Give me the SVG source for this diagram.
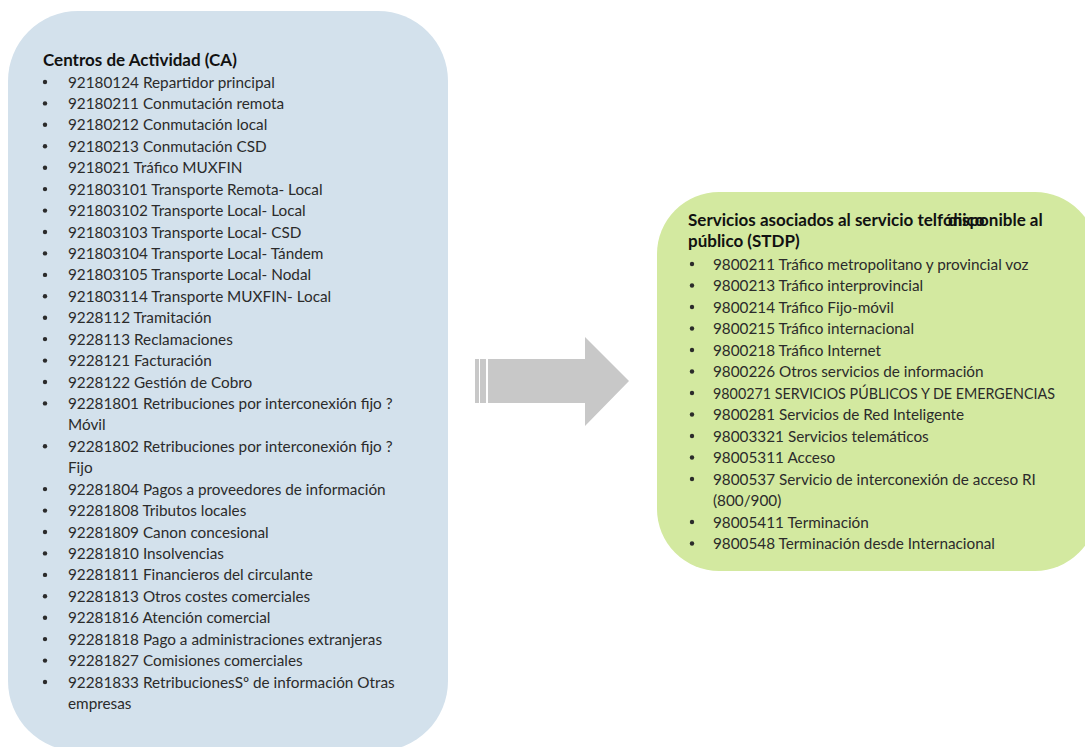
<svg xmlns="http://www.w3.org/2000/svg" width="1085" height="747" viewBox="0 0 1085 747">
  <style>
    .title { font-family: Lato, "Liberation Sans", sans-serif; font-weight: bold; font-size: 17px; fill: #111; }
    .item { font-family: Lato, "Liberation Sans", sans-serif; font-size: 15.3px; fill: #2b2b2b; }
    .bullet { fill: #2b2b2b; }
  </style>
  <defs>
    <symbol id="dot" overflow="visible"><circle r="2.2" class="bullet"/></symbol>
  </defs>
  <rect width="1085" height="747" fill="#ffffff"/>

  <!-- Activity centres -->
  <g id="centros">
    <rect x="8" y="11" width="440" height="740" rx="70" ry="70" fill="#d3e1ec"/>
    <text class="title" x="43" y="66">Centros de Actividad (CA)</text>
    <g class="item">
      <text x="68" y="87.5">92180124 Repartidor principal</text>
      <text x="68" y="108.9">92180211 Conmutación remota</text>
      <text x="68" y="130.3">92180212 Conmutación local</text>
      <text x="68" y="151.8">92180213 Conmutación CSD</text>
      <text x="68" y="173.2">9218021 Tráfico MUXFIN</text>
      <text x="68" y="194.6">921803101 Transporte Remota- Local</text>
      <text x="68" y="216.1">921803102 Transporte Local- Local</text>
      <text x="68" y="237.5">921803103 Transporte Local- CSD</text>
      <text x="68" y="258.9">921803104 Transporte Local- Tándem</text>
      <text x="68" y="280.4">921803105 Transporte Local- Nodal</text>
      <text x="68" y="301.8">921803114 Transporte MUXFIN- Local</text>
      <text x="68" y="323.2">9228112 Tramitación</text>
      <text x="68" y="344.6">9228113 Reclamaciones</text>
      <text x="68" y="366.1">9228121 Facturación</text>
      <text x="68" y="387.5">9228122 Gestión de Cobro</text>
      <text x="68" y="408.9">92281801 Retribuciones por interconexión fijo ?</text>
      <text x="68" y="430.4">Móvil</text>
      <text x="68" y="451.8">92281802 Retribuciones por interconexión fijo ?</text>
      <text x="68" y="473.2">Fijo</text>
      <text x="68" y="494.6">92281804 Pagos a proveedores de información</text>
      <text x="68" y="516.1">92281808 Tributos locales</text>
      <text x="68" y="537.5">92281809 Canon concesional</text>
      <text x="68" y="558.9">92281810 Insolvencias</text>
      <text x="68" y="580.4">92281811 Financieros del circulante</text>
      <text x="68" y="601.8">92281813 Otros costes comerciales</text>
      <text x="68" y="623.2">92281816 Atención comercial</text>
      <text x="68" y="644.6">92281818 Pago a administraciones extranjeras</text>
      <text x="68" y="666.1">92281827 Comisiones comerciales</text>
      <text x="68" y="687.5">92281833 RetribucionesSº de información Otras</text>
      <text x="68" y="708.9">empresas</text>
    </g>
    <g>
      <use href="#dot" x="45" y="82"/>
      <use href="#dot" x="45" y="103.4"/>
      <use href="#dot" x="45" y="124.8"/>
      <use href="#dot" x="45" y="146.3"/>
      <use href="#dot" x="45" y="167.7"/>
      <use href="#dot" x="45" y="189.1"/>
      <use href="#dot" x="45" y="210.6"/>
      <use href="#dot" x="45" y="232"/>
      <use href="#dot" x="45" y="253.4"/>
      <use href="#dot" x="45" y="274.9"/>
      <use href="#dot" x="45" y="296.3"/>
      <use href="#dot" x="45" y="317.7"/>
      <use href="#dot" x="45" y="339.1"/>
      <use href="#dot" x="45" y="360.6"/>
      <use href="#dot" x="45" y="382"/>
      <use href="#dot" x="45" y="403.4"/>
      <use href="#dot" x="45" y="446.3"/>
      <use href="#dot" x="45" y="489.1"/>
      <use href="#dot" x="45" y="510.6"/>
      <use href="#dot" x="45" y="532"/>
      <use href="#dot" x="45" y="553.4"/>
      <use href="#dot" x="45" y="574.9"/>
      <use href="#dot" x="45" y="596.3"/>
      <use href="#dot" x="45" y="617.7"/>
      <use href="#dot" x="45" y="639.1"/>
      <use href="#dot" x="45" y="660.6"/>
      <use href="#dot" x="45" y="682"/>
    </g>
  </g>

  <!-- Telephone services -->
  <g id="stdp">
    <rect x="657" y="192" width="440" height="379" rx="62" ry="62" fill="#d3e9a0"/>
    <text class="title" x="688" y="225.5">Servicios asociados al servicio telfónico</text>
    <text class="title" x="948" y="225.5">disponible al</text>
    <text class="title" x="688" y="246.5">público (STDP)</text>
    <g class="item">
      <text x="713" y="269.5">9800211 Tráfico metropolitano y provincial voz</text>
      <text x="713" y="291">9800213 Tráfico interprovincial</text>
      <text x="713" y="312.5">9800214 Tráfico Fijo-móvil</text>
      <text x="713" y="334">9800215 Tráfico internacional</text>
      <text x="713" y="355.5">9800218 Tráfico Internet</text>
      <text x="713" y="377">9800226 Otros servicios de información</text>
      <text x="713" y="398.5" textLength="342" lengthAdjust="spacingAndGlyphs">9800271 SERVICIOS PÚBLICOS Y DE EMERGENCIAS</text>
      <text x="713" y="420">9800281 Servicios de Red Inteligente</text>
      <text x="713" y="441.5">98003321 Servicios telemáticos</text>
      <text x="713" y="463">98005311 Acceso</text>
      <text x="713" y="484.5">9800537 Servicio de interconexión de acceso RI</text>
      <text x="713" y="506">(800/900)</text>
      <text x="713" y="527.5">98005411 Terminación</text>
      <text x="713" y="549">9800548 Terminación desde Internacional</text>
    </g>
    <g>
      <use href="#dot" x="692" y="264"/>
      <use href="#dot" x="692" y="285.5"/>
      <use href="#dot" x="692" y="307"/>
      <use href="#dot" x="692" y="328.5"/>
      <use href="#dot" x="692" y="350"/>
      <use href="#dot" x="692" y="371.5"/>
      <use href="#dot" x="692" y="393"/>
      <use href="#dot" x="692" y="414.5"/>
      <use href="#dot" x="692" y="436"/>
      <use href="#dot" x="692" y="457.5"/>
      <use href="#dot" x="692" y="479"/>
      <use href="#dot" x="692" y="522"/>
      <use href="#dot" x="692" y="543.5"/>
    </g>
  </g>

  <!-- Striped block arrow between the two lists -->
  <g id="connectors" fill="#c8c8c8">
    <rect x="475" y="359" width="4" height="44"/>
    <rect x="480" y="359" width="6" height="44"/>
    <path d="M488 359 H585 V337 L629 381 L585 426 V403 H488 Z"/>
  </g>
</svg>
